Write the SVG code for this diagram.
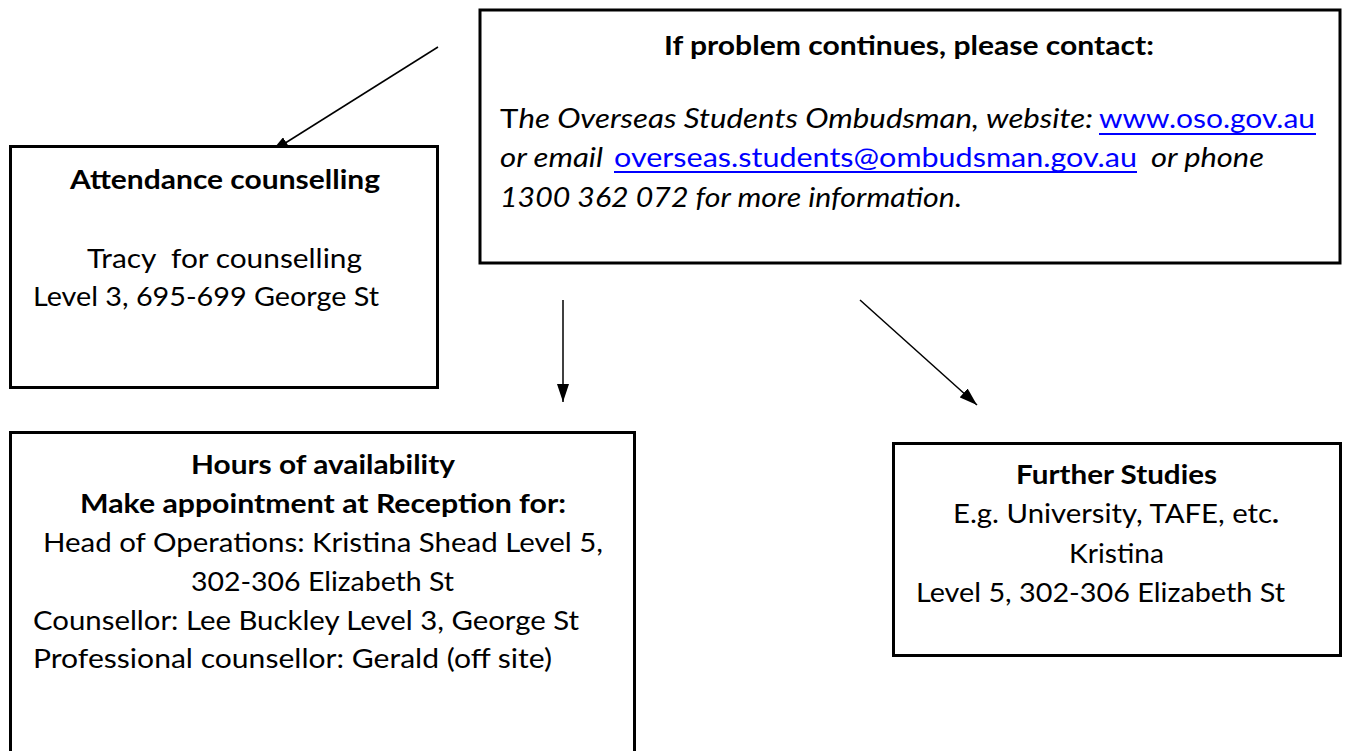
<svg xmlns="http://www.w3.org/2000/svg" width="1347" height="751" viewBox="0 0 1347 751">
<style>
.box{fill:#fff;stroke:#000;stroke-width:3}
.t{font-family:Lato,"Carlito","Liberation Sans",sans-serif;font-size:27.5px;fill:#000}
.b{font-weight:bold}
.i{font-style:italic}
.lk{fill:#0000ff}
.ul{stroke:#0000ff;stroke-width:2}
.conn{stroke:#000;stroke-width:1.5;fill:none}
</style>
<defs>
<marker id="ah" markerUnits="userSpaceOnUse" markerWidth="18" markerHeight="12" refX="18" refY="6" orient="auto">
<path d="M0,0 L18,6 L0,12 z" fill="#000"/>
</marker>
</defs>
<rect width="1347" height="751" fill="#fff"/>
<g id="connectors">
<line class="conn" x1="438" y1="47" x2="271" y2="152" marker-end="url(#ah)"/>
<line class="conn" x1="563" y1="300" x2="563" y2="402" marker-end="url(#ah)"/>
<line class="conn" x1="860" y1="300" x2="977" y2="405" marker-end="url(#ah)"/>
</g>
<g id="attendance">
<rect class="box" x="10.5" y="146.5" width="427" height="241"/>
<text class="t b" x="70" y="189" textLength="310" lengthAdjust="spacingAndGlyphs">Attendance counselling</text>
<text class="t" x="87" y="268" textLength="275" lengthAdjust="spacingAndGlyphs" xml:space="preserve">Tracy  for counselling</text>
<text class="t" x="33" y="306" textLength="346" lengthAdjust="spacingAndGlyphs">Level 3, 695-699 George St</text>
</g>
<g id="ombudsman">
<rect class="box" x="480" y="10" width="860" height="253"/>
<text class="t b" x="664" y="55" textLength="490" lengthAdjust="spacingAndGlyphs">If problem continues, please contact:</text>
<text class="t" x="500" y="128" textLength="593" lengthAdjust="spacingAndGlyphs">T<tspan class="i">he Overseas Students Ombudsman, website:</tspan></text>
<text class="t lk" x="1099" y="128" textLength="216" lengthAdjust="spacingAndGlyphs">www.oso.gov.au</text>
<line class="ul" x1="1099" y1="134" x2="1316" y2="134"/>
<text class="t i" x="500" y="167" textLength="103" lengthAdjust="spacingAndGlyphs">or email</text>
<text class="t lk" x="614" y="167" textLength="523" lengthAdjust="spacingAndGlyphs">overseas.students@ombudsman.gov.au</text>
<line class="ul" x1="614" y1="172" x2="1137" y2="172"/>
<text class="t i" x="1151" y="167" textLength="113" lengthAdjust="spacingAndGlyphs">or phone</text>
<text class="t i" x="500" y="207" textLength="462" lengthAdjust="spacingAndGlyphs">1300 362 072 for more information.</text>
</g>
<g id="hours">
<rect class="box" x="10.5" y="432.5" width="624" height="340"/>
<text class="t b" x="191" y="474" textLength="264" lengthAdjust="spacingAndGlyphs">Hours of availability</text>
<text class="t b" x="80" y="513" textLength="486" lengthAdjust="spacingAndGlyphs">Make appointment at Reception for:</text>
<text class="t" x="43" y="552" textLength="560" lengthAdjust="spacingAndGlyphs">Head of Operations: Kristina Shead Level 5,</text>
<text class="t" x="191" y="591" textLength="263" lengthAdjust="spacingAndGlyphs">302-306 Elizabeth St</text>
<text class="t" x="33" y="630" textLength="546" lengthAdjust="spacingAndGlyphs">Counsellor: Lee Buckley Level 3, George St</text>
<text class="t" x="33" y="668" textLength="519" lengthAdjust="spacingAndGlyphs">Professional counsellor: Gerald (off site)</text>
</g>
<g id="further">
<rect class="box" x="893.5" y="443.5" width="447" height="212"/>
<text class="t b" x="1016" y="484" textLength="201" lengthAdjust="spacingAndGlyphs">Further Studies</text>
<text class="t" x="953" y="523" textLength="326" lengthAdjust="spacingAndGlyphs">E.g. University, TAFE, etc<tspan class="b">.</tspan></text>
<text class="t" x="1069" y="563" textLength="95" lengthAdjust="spacingAndGlyphs">Kristina</text>
<text class="t" x="916" y="602" textLength="369" lengthAdjust="spacingAndGlyphs">Level 5, 302-306 Elizabeth St</text>
</g>
</svg>
